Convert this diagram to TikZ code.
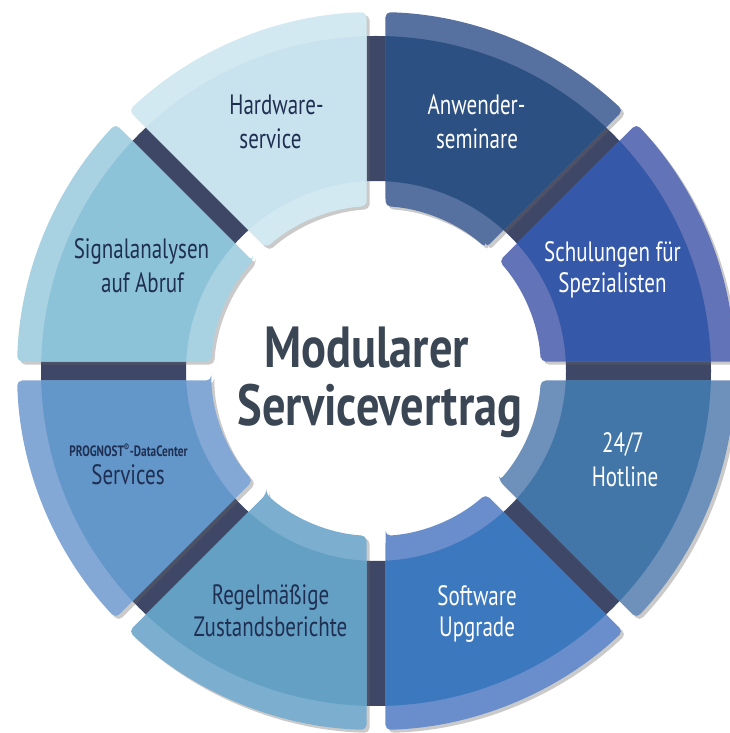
\documentclass[tikz,border=0pt]{standalone}
\usepackage{fontspec}
\setmainfont{PT Sans}[FakeStretch=0.75]
\newfontfamily\ctrfont{PT Sans}[FakeStretch=0.8]
\usetikzlibrary{shadows}
\definecolor{navy}{HTML}{3E4766}
\definecolor{txtdark}{HTML}{1F2F52}
\definecolor{txtcenter}{HTML}{3A4654}
\definecolor{hwM}{HTML}{C9E3EE}\definecolor{hwB}{HTML}{D3E9F2}
\definecolor{anM}{HTML}{2C5082}\definecolor{anB}{HTML}{56709F}
\definecolor{scM}{HTML}{3558A8}\definecolor{scB}{HTML}{6273B7}
\definecolor{hoM}{HTML}{4276A8}\definecolor{hoB}{HTML}{6E91BB}
\definecolor{swM}{HTML}{3C78BE}\definecolor{swB}{HTML}{6A8DCB}
\definecolor{reM}{HTML}{64A0C4}\definecolor{reB}{HTML}{7CAFCF}
\definecolor{prM}{HTML}{6396C9}\definecolor{prB}{HTML}{84A8D6}
\definecolor{siM}{HTML}{8DC3D8}\definecolor{siB}{HTML}{A8D2E2}
\newcommand{\segpath}[2]{({#1+3.3}:165) -- ({#1+1.516}:359) arc[start angle={#1+1.516}, end angle={#2-1.516}, radius=359] -- ({#2-3.3}:165) arc[start angle={#2-3.3}, end angle={#1+3.3}, radius=165] -- cycle}
\newcommand{\segment}[4]{%
  \fill[#3, rounded corners=5, drop shadow={shadow xshift=3, shadow yshift=-3, opacity=0.35, fill=black!60}] \segpath{#1}{#2};
  \begin{scope}
    \clip \segpath{#1}{#2};
    \fill[#4, even odd rule] (0,0) circle[radius=335] (0,0) circle[radius=190];
  \end{scope}}
\tikzset{
  lbl/.style={anchor=base, inner sep=0, font=\fontsize{28}{32}\selectfont},
  lbldark/.style={lbl, text=txtdark},
  lbllight/.style={lbl, text=white},
  ctr/.style={anchor=base, inner sep=0, text=txtcenter, font=\ctrfont\bfseries\fontsize{58}{64}\selectfont}
}
\begin{document}
\begin{tikzpicture}[x=1pt,y=1pt]
\useasboundingbox (0,0) rectangle (729,733);
\begin{scope}[shift={(376,362)}]
  \fill[navy, even odd rule] (0,0) circle[radius=335] (0,0) circle[radius=190];
  \segment{90}{135}{hwB}{hwM}
  \segment{135}{180}{siB}{siM}
  \segment{180}{225}{prB}{prM}
  \segment{225}{270}{reB}{reM}
  \segment{270}{315}{swB}{swM}
  \segment{315}{360}{hoB}{hoM}
  \segment{0}{45}{scB}{scM}
  \segment{45}{90}{anB}{anM}
\end{scope}
% labels
\node[lbldark] (hw1) at (276.5,618) {Hardware-};
\node[lbldark] (hw2) at (270.5,584) {service};
\node[lbllight] (an1) at (476.5,618) {Anwender-};
\node[lbllight] (an2) at (477,584) {seminare};
\node[lbllight] (sc1) at (612.5,471) {Schulungen für};
\node[lbllight] (sc2) at (612.5,440) {Spezialisten};
\node[lbldark] (si1) at (141.5,474) {Signalanalysen};
\node[lbldark] (si2) at (142.5,440) {auf Abruf};
\node[lbllight] (ho1) at (623,280) {24/7};
\node[lbllight] (ho2) at (625,246) {Hotline};
\node[anchor=base, inner sep=0, text=txtdark, font=\bfseries\fontsize{15}{18}\selectfont] (pr1) at (128.5,276) {PROGNOST\textsuperscript{®}-DataCenter};
\node[lbldark] (pr2) at (128,248) {Services};
\node[lbldark] (re1) at (270.5,128) {Regelmäßige};
\node[lbldark] (re2) at (270.5,96) {Zustandsberichte};
\node[lbllight] (sw1) at (477,127) {Software};
\node[lbllight] (sw2) at (477,96) {Upgrade};
\node[ctr] (c1) at (366.5,365) {Modularer};
\node[ctr] (c2) at (380,307) {Servicevertrag};
\end{tikzpicture}
\end{document}
